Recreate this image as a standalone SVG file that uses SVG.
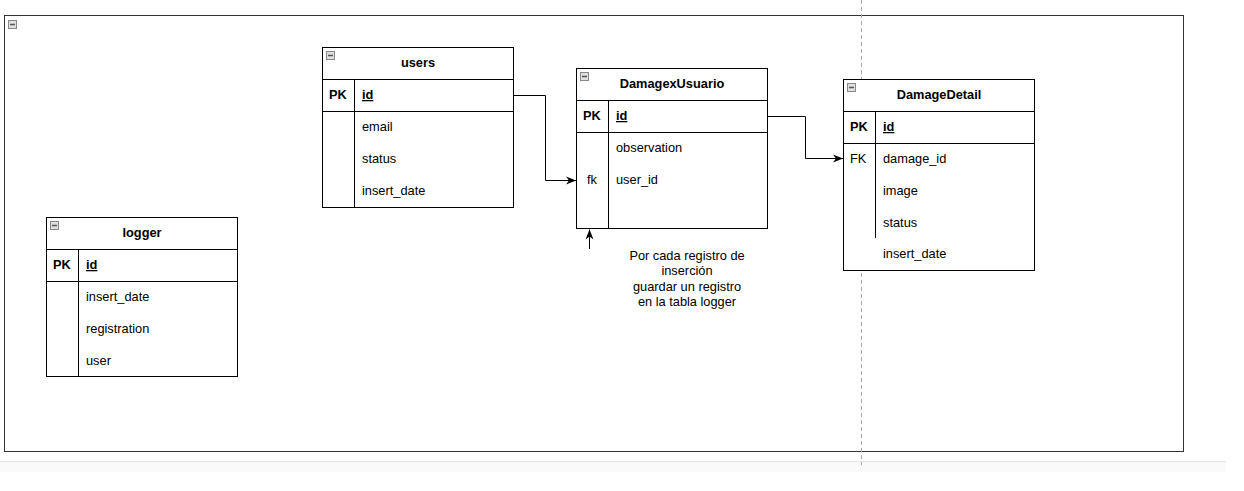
<svg xmlns="http://www.w3.org/2000/svg" width="1244" height="491" viewBox="0 0 1244 491">
<defs>
<style>
.frame{fill:#fff;stroke:#000;stroke-width:1}
.ln{stroke:#000;stroke-width:1;fill:none}
.t{font-family:"Liberation Sans",Arial,sans-serif;font-size:12.8px;fill:#000}
.b{font-weight:bold}
.u{text-decoration:underline}
.c{text-anchor:middle}
.conn{stroke:#000;stroke-width:1;fill:none}
</style>
<marker id="arr" viewBox="0 0 10 10" refX="10" refY="5" markerWidth="10" markerHeight="10" orient="auto" markerUnits="userSpaceOnUse">
<path d="M0,1 L10,5 L0,9 L3,5 Z" fill="#000"/>
</marker>
<g id="icon">
<rect x="0.5" y="0.5" width="8" height="8" fill="#e0e0e0" stroke="#888"/>
<line x1="2" y1="4.5" x2="7" y2="4.5" stroke="#555" stroke-width="1.5"/>
</g>
</defs>
<rect width="1244" height="491" fill="#fff"/>
<rect x="0" y="462" width="1226" height="10" fill="#fafafa"/>
<line x1="0" y1="461.5" x2="1226" y2="461.5" stroke="#e4e4e4"/>
<g id="container">
<rect x="4.5" y="15.5" width="1179" height="436" fill="#fff" stroke="#333"/>
<use href="#icon" x="8" y="20"/>
</g>
<line x1="861.5" y1="0" x2="861.5" y2="465" stroke="#aaa" stroke-dasharray="4,3"/>

<g id="users">
<rect class="frame" x="322.5" y="47.5" width="191" height="160"/>
<line class="ln" x1="322.5" y1="79.5" x2="513.5" y2="79.5"/>
<line class="ln" x1="322.5" y1="111.5" x2="513.5" y2="111.5"/>
<line class="ln" x1="354.5" y1="79.5" x2="354.5" y2="207.5"/>
<use href="#icon" x="326" y="51"/>
<text class="t b c" x="418" y="67">users</text>
<text class="t b" x="329" y="99">PK</text>
<text class="t b u" x="362" y="99">id</text>
<text class="t" x="362" y="131">email</text>
<text class="t" x="362" y="163">status</text>
<text class="t" x="362" y="195">insert_date</text>
</g>

<g id="damagexusuario">
<rect class="frame" x="576.5" y="68.5" width="191" height="160"/>
<line class="ln" x1="576.5" y1="100.5" x2="767.5" y2="100.5"/>
<line class="ln" x1="576.5" y1="132.5" x2="767.5" y2="132.5"/>
<line class="ln" x1="608.5" y1="100.5" x2="608.5" y2="228.5"/>
<use href="#icon" x="580" y="72"/>
<text class="t b c" x="672" y="88">DamagexUsuario</text>
<text class="t b" x="583" y="120">PK</text>
<text class="t b u" x="616" y="120">id</text>
<text class="t" x="616" y="152">observation</text>
<text class="t" x="587" y="184">fk</text>
<text class="t" x="616" y="184">user_id</text>
</g>

<g id="damagedetail">
<rect class="frame" x="843.5" y="79.5" width="191" height="191"/>
<line class="ln" x1="843.5" y1="111.5" x2="1034.5" y2="111.5"/>
<line class="ln" x1="843.5" y1="143.5" x2="1034.5" y2="143.5"/>
<line class="ln" x1="875.5" y1="111.5" x2="875.5" y2="238"/>
<use href="#icon" x="847" y="83"/>
<text class="t b c" x="939" y="99">DamageDetail</text>
<text class="t b" x="850" y="131">PK</text>
<text class="t b u" x="883" y="131">id</text>
<text class="t" x="850" y="163">FK</text>
<text class="t" x="883" y="163">damage_id</text>
<text class="t" x="883" y="195">image</text>
<text class="t" x="883" y="227">status</text>
<text class="t" x="883" y="258">insert_date</text>
</g>

<g id="logger">
<rect class="frame" x="46.5" y="217.5" width="191" height="159"/>
<line class="ln" x1="46.5" y1="249.5" x2="237.5" y2="249.5"/>
<line class="ln" x1="46.5" y1="281.5" x2="237.5" y2="281.5"/>
<line class="ln" x1="78.5" y1="249.5" x2="78.5" y2="376.5"/>
<use href="#icon" x="50" y="221"/>
<text class="t b c" x="142" y="237">logger</text>
<text class="t b" x="53" y="269">PK</text>
<text class="t b u" x="86" y="269">id</text>
<text class="t" x="86" y="301">insert_date</text>
<text class="t" x="86" y="333">registration</text>
<text class="t" x="86" y="365">user</text>
</g>

<g id="note">
<text class="t c" x="687" y="260">Por cada registro de</text>
<text class="t c" x="687" y="275">inserción</text>
<text class="t c" x="687" y="291">guardar un registro</text>
<text class="t c" x="687" y="306">en la tabla logger</text>
</g>

<g id="connectors">
<path class="conn" d="M513.5,95.5 H545.5 V180.5 H576" marker-end="url(#arr)"/>
<path class="conn" d="M767.5,116.5 H805.5 V158.5 H843" marker-end="url(#arr)"/>
<path class="conn" d="M589.5,249 V229.5" marker-end="url(#arr)"/>
</g>
</svg>
